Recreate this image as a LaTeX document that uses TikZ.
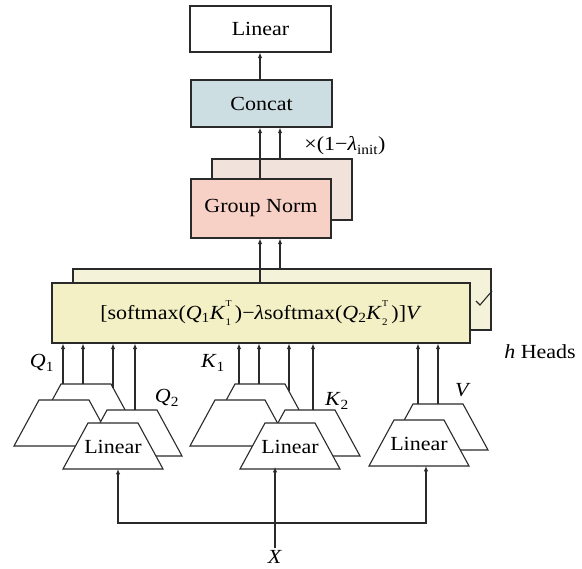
\documentclass[tikz,border=0pt]{standalone}
\usepackage{fontspec}
\setmainfont[FakeStretch=1.1]{Liberation Serif}
\usetikzlibrary{arrows.meta,calc}
\definecolor{linec}{HTML}{2A2A2A}
\definecolor{concatc}{HTML}{CDDEE2}
\definecolor{gnfront}{HTML}{F7D0C6}
\definecolor{gnback}{HTML}{F2E2DC}
\definecolor{attfront}{HTML}{F2F0C4}
\definecolor{attback}{HTML}{F5F2DA}
\newcommand\mysubsup[2]{\makebox[0pt][l]{\raisebox{-0.3em}{\fontsize{10}{10}\selectfont #1}}\raisebox{0.62em}{\fontsize{9}{9}\selectfont #2}}
% trapezoid: name, bottom-centre x, bottom y, text
\newcommand\trapz[4]{%
  \coordinate (#1-b) at (#2,#3);
  \coordinate (#1-t) at (#2,#3-46);
  \coordinate (#1-tr) at (#2+25,#3-46);
  \filldraw[trapline] (#2-50,#3) -- (#2-25,#3-46) -- (#2+25,#3-46) -- (#2+50,#3) -- cycle;
  \node[lbl] (#1) at (#2,#3-22) {#4};}
\begin{document}
\begin{tikzpicture}[x=1pt,y=-1pt,
  font=\fontsize{20}{23}\selectfont,
  blk/.style={draw=linec,line width=1.1pt,rectangle,inner sep=0pt},
  trapline/.style={draw=linec,fill=white,line width=1.1pt,line join=miter},
  arr/.style={draw=linec,line width=1.1pt,-{Latex[length=5.5pt,width=4.5pt]}},
  lbl/.style={inner sep=0pt}]
\useasboundingbox (0,0) rectangle (582,569);

% top blocks
\node[blk,fill=white,minimum width=141pt,minimum height=46pt] (lin) at (260.5,29) {Linear};
\node[blk,fill=concatc,minimum width=141pt,minimum height=47pt] (concat) at (261.5,103.5) {Concat};
\node[blk,fill=gnback,minimum width=140pt,minimum height=61pt] (gnb) at (282,189.5) {};
\node[blk,fill=gnfront,minimum width=140pt,minimum height=59pt] (gn) at (261,208.5) {Group Norm};
\node[blk,fill=attback,minimum width=418pt,minimum height=61pt] (attb) at (282,299.5) {};
\node[blk,fill=attfront,minimum width=418pt,minimum height=60pt] (att) at (261,313)
  {[softmax(\textit{Q}\textsubscript{1}\textit{K}\mysubsup{1}{T}\,)−\textit{λ}softmax(\textit{Q}\textsubscript{2}\textit{K}\mysubsup{2}{T}\,)]\textit{V}};

% tick on the back box edge
\draw[draw=linec,line width=1.1pt] (476,301) -- (480,305) -- (492,291);

% arrows between blocks
\draw[arr] ([xshift=-1.5pt]concat.north) -- ([xshift=-1.5pt]concat.north |- lin.south);
\draw[arr] ([xshift=-1pt]gn.north) -- ([xshift=-1pt]gn.north |- concat.south);
\draw[arr] ([xshift=-2pt]gnb.north) -- ([xshift=-2pt]gnb.north |- concat.south);
\draw[arr] ([xshift=-1pt]att.north) -- ([xshift=-1pt]att.north |- gn.south);
\draw[arr] ([xshift=-2pt]attb.north) -- ([xshift=-2pt]attb.north |- gn.south);

% trapezoids
\trapz{QA}{86}{430}{}
\trapz{QB}{64}{446}{}
\trapz{QC}{132}{456}{}
\trapz{QD}{113}{469}{Linear}
\trapz{KA}{260}{430}{}
\trapz{KB}{240}{446}{}
\trapz{KC}{310}{456}{}
\trapz{KD}{290}{469}{Linear}
\trapz{VA}{438}{450}{}
\trapz{VB}{419}{466}{Linear}

% arrows into attention
\draw[arr] ([xshift=-23pt]QA-t) -- ([xshift=-23pt]QA-t |- att.south);
\draw[arr] ([xshift=-3pt]QA-t) -- ([xshift=-3pt]QA-t |- att.south);
\draw[arr] ([xshift=2pt,yshift=-3.7pt]QA-tr) -- ([xshift=2pt]QA-tr |- att.south);
\draw[arr] ([xshift=3pt]QC-t) -- ([xshift=3pt]QC-t |- att.south);
\draw[arr] ([xshift=-21pt]KA-t) -- ([xshift=-21pt]KA-t |- att.south);
\draw[arr] ([xshift=-1pt]KA-t) -- ([xshift=-1pt]KA-t |- att.south);
\draw[arr] ([xshift=4pt,yshift=-7.4pt]KA-tr) -- ([xshift=4pt]KA-tr |- att.south);
\draw[arr] ([xshift=3pt]KC-t) -- ([xshift=3pt]KC-t |- att.south);
\draw[arr] ([xshift=-20pt]VA-t) -- ([xshift=-20pt]VA-t |- att.south);
\draw[arr] (VA-t) -- (VA-t |- att.south);

% input
\node[lbl] (X) at (275,557) {\textit{X}};
\coordinate (split) at (275,523);
\draw[arr] ([yshift=2pt]X.north) -- ([yshift=2pt]X.north |- KD-b);
\draw[arr] (split) -| ([xshift=5pt]QD-b);
\draw[arr] (split) -| ([xshift=7pt]VB-b);

% labels
\node[lbl] (lq1) at (42,363) {\textit{Q}\textsubscript{1}};
\node[lbl] (lk1) at (213,363) {\textit{K}\textsubscript{1}};
\node[lbl] (lq2) at (167,398) {\textit{Q}\textsubscript{2}};
\node[lbl] (lk2) at (337,401) {\textit{K}\textsubscript{2}};
\node[lbl] (lv) at (463,390) {\textit{V}};
\node[lbl] (heads) at (540,352) {\textit{h} Heads};
\node[lbl] (lam) at (345,146) {×(1−\textit{λ}\textsubscript{init})};
\end{tikzpicture}
\end{document}
